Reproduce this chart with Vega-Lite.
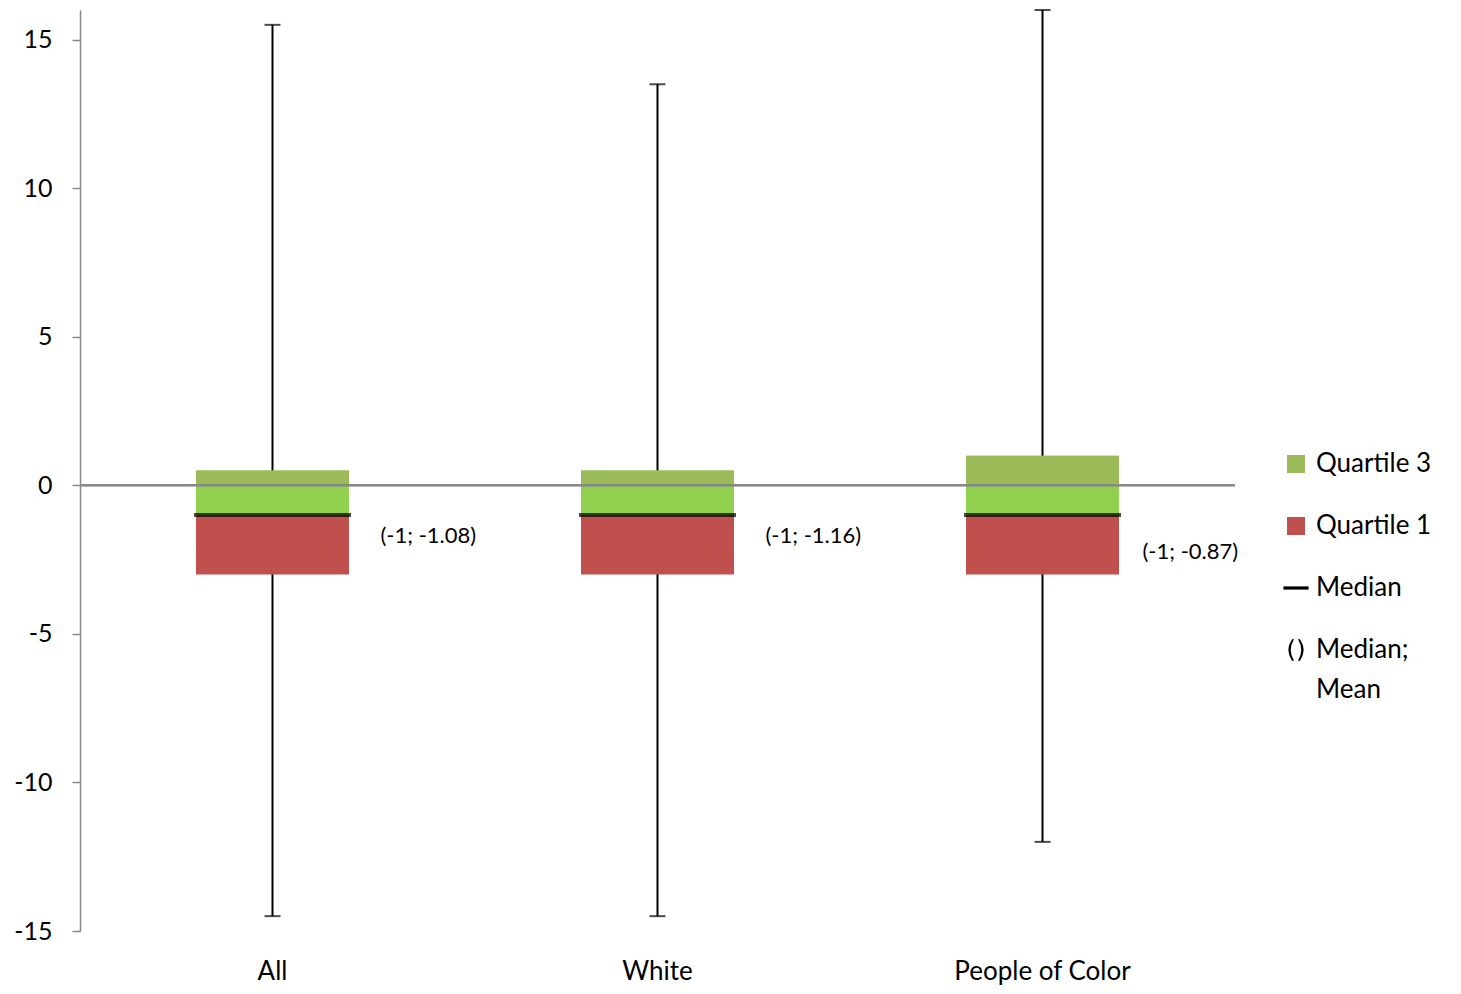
{
  "$schema": "https://vega.github.io/schema/vega-lite/v6.json",
  "width": 1155,
  "height": 921,
  "autosize": {"type": "none"},
  "padding": {"left": 80, "top": 10, "right": 226, "bottom": 63},
  "background": "white",
  "config": {
    "view": {"stroke": null},
    "font": "Lato",
    "axis": {"labelFont": "Lato", "labelFontSize": 24, "labelColor": "#000000", "grid": false, "title": null}
  },
  "datasets": {
    "stats": [
      {"group": "All", "min": -14.5, "q1": -3, "median": -1, "q3": 0.5, "max": 15.5, "mean": -1.08, "label": "(-1; -1.08)"},
      {"group": "White", "min": -14.5, "q1": -3, "median": -1, "q3": 0.5, "max": 13.5, "mean": -1.16, "label": "(-1; -1.16)"},
      {"group": "People of Color", "min": -12, "q1": -3, "median": -1, "q3": 1, "max": 16, "mean": -0.87, "label": "(-1; -0.87)"}
    ],
    "legendItems": [
      {"part": "Quartile 3"},
      {"part": "Quartile 1"},
      {"part": "Median"},
      {"part": "Median; Mean"}
    ]
  },
  "layer": [
    {
      "data": {"name": "stats"},
      "mark": {"type": "rule", "color": "#000000", "strokeWidth": 2},
      "encoding": {
        "x": {"field": "group", "type": "nominal", "sort": null, "scale": {"paddingInner": 0, "paddingOuter": 0},
              "axis": {"domain": false, "ticks": false, "labelAngle": 0, "labelPadding": 27, "labelFontSize": 26}},
        "y": {"field": "min", "type": "quantitative", "scale": {"domain": [-15, 16], "nice": false},
              "axis": {"values": [-15, -10, -5, 0, 5, 10, 15], "labelExpr": "'' + datum.value", "domainColor": "#888888", "domainWidth": 1.5, "tickColor": "#888888", "tickWidth": 1.5, "tickSize": 8, "labelPadding": 20, "labelFontSize": 25}},
        "y2": {"field": "max"}
      }
    },
    {
      "data": {"name": "stats"},
      "mark": {"type": "bar", "color": "#C0504D", "width": 153},
      "encoding": {
        "x": {"field": "group", "type": "nominal", "sort": null},
        "y": {"field": "q1", "type": "quantitative"},
        "y2": {"field": "median"}
      }
    },
    {
      "data": {"name": "stats"},
      "mark": {"type": "bar", "color": "#92D050", "width": 153},
      "encoding": {
        "x": {"field": "group", "type": "nominal", "sort": null},
        "y": {"field": "median", "type": "quantitative"},
        "y2": {"field": "q3"}
      }
    },
    {
      "data": {"name": "stats"},
      "mark": {"type": "bar", "color": "#9BBB59", "width": 153},
      "encoding": {
        "x": {"field": "group", "type": "nominal", "sort": null},
        "y": {"field": "q3", "type": "quantitative"}
      }
    },
    {
      "data": {"name": "stats"},
      "mark": {"type": "rule", "color": "#888888", "strokeWidth": 2},
      "encoding": {"y": {"datum": 0, "type": "quantitative"}}
    },
    {
      "data": {"name": "stats"},
      "mark": {"type": "tick", "color": "#000000", "size": 16, "thickness": 2},
      "encoding": {
        "x": {"field": "group", "type": "nominal", "sort": null},
        "y": {"field": "min", "type": "quantitative"}
      }
    },
    {
      "data": {"name": "stats"},
      "mark": {"type": "tick", "color": "#000000", "size": 16, "thickness": 2},
      "encoding": {
        "x": {"field": "group", "type": "nominal", "sort": null},
        "y": {"field": "max", "type": "quantitative"}
      }
    },
    {
      "data": {"name": "stats"},
      "mark": {"type": "tick", "color": "#000000", "size": 157, "thickness": 4},
      "encoding": {
        "x": {"field": "group", "type": "nominal", "sort": null},
        "y": {"field": "median", "type": "quantitative"}
      }
    },
    {
      "data": {"name": "stats"},
      "transform": [{"filter": "datum.group != 'People of Color'"}],
      "mark": {"type": "text", "align": "left", "baseline": "middle", "fontSize": 22, "font": "Lato", "color": "#000000", "dx": 108, "dy": 21},
      "encoding": {
        "x": {"field": "group", "type": "nominal", "sort": null},
        "y": {"field": "median", "type": "quantitative"},
        "text": {"field": "label"}
      }
    },
    {
      "data": {"name": "stats"},
      "transform": [{"filter": "datum.group == 'People of Color'"}],
      "mark": {"type": "text", "align": "left", "baseline": "middle", "fontSize": 22, "font": "Lato", "color": "#000000", "dx": 100, "dy": 37},
      "encoding": {
        "x": {"field": "group", "type": "nominal", "sort": null},
        "y": {"field": "median", "type": "quantitative"},
        "text": {"field": "label"}
      }
    },
    {
      "data": {"name": "legendItems"},
      "mark": {"type": "point", "filled": true, "opacity": 0},
      "encoding": {
        "color": {
          "field": "part", "type": "nominal",
          "scale": {"domain": ["Quartile 3", "Quartile 1", "Median", "Median; Mean"], "range": ["#9BBB59", "#C0504D", "#000000", "#000000"]},
          "legend": {
            "orient": "none", "legendX": 1203, "legendY": 441, "title": null,
            "labelFont": "Lato", "labelFontSize": 26, "labelColor": "#000000", "labelLimit": 300,
            "symbolSize": 324, "labelOffset": 7, "rowPadding": 36,
            "labelExpr": "datum.label == 'Median; Mean' ? ['Median;', 'Mean'] : datum.label",
            "encode": {
              "symbols": {"update": {"opacity": {"value": 1}, "fillOpacity": {"value": 1}, "strokeWidth": {"value": 0}}},
              "labels": {"update": {"lineHeight": {"value": 40}}}
            }
          }
        },
        "shape": {
          "field": "part", "type": "nominal",
          "scale": {"domain": ["Quartile 3", "Quartile 1", "Median", "Median; Mean"],
                    "range": ["M-1,-1H1V1H-1Z", "M-1,-1H1V1H-1Z", "M-1.4,-0.18H1.4V0.18H-1.4Z",
                              "M-0.45,-1.2Q-1.25,0,-0.45,1.2L-0.22,1.2Q-0.95,0,-0.22,-1.2ZM0.22,-1.2Q0.95,0,0.22,1.2L0.45,1.2Q1.25,0,0.45,-1.2Z"]},
          "legend": {
            "orient": "none", "legendX": 1203, "legendY": 441, "title": null,
            "labelFont": "Lato", "labelFontSize": 26, "labelColor": "#000000", "labelLimit": 300,
            "symbolSize": 324, "labelOffset": 7, "rowPadding": 36,
            "labelExpr": "datum.label == 'Median; Mean' ? ['Median;', 'Mean'] : datum.label",
            "encode": {
              "symbols": {"update": {"opacity": {"value": 1}, "fillOpacity": {"value": 1}, "strokeWidth": {"value": 0}}},
              "labels": {"update": {"lineHeight": {"value": 40}}}
            }
          }
        }
      }
    }
  ]
}
